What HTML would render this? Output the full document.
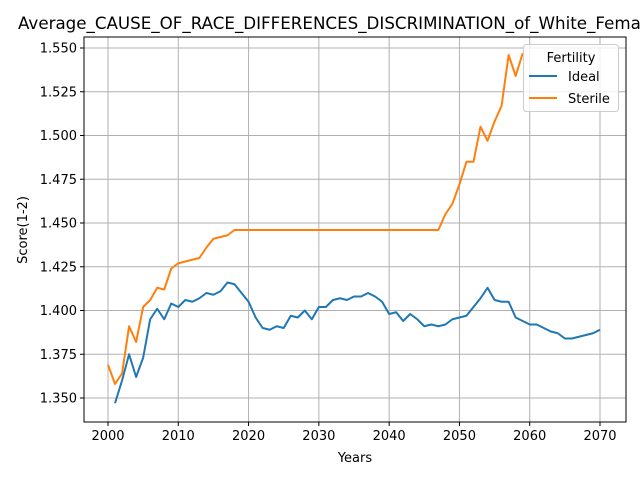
<!DOCTYPE html>
<html><head><meta charset="utf-8"><style>
body{margin:0;background:#fff;width:640px;height:480px;overflow:hidden;font-family:"Liberation Sans","DejaVu Sans",sans-serif;}
svg text{font-family:"DejaVu Sans","Liberation Sans",sans-serif;}
</style></head><body>
<svg id="chart" width="640" height="480">
<text x="18" y="29" font-size="16.7" fill="#000">Average_CAUSE_OF_RACE_DIFFERENCES_DISCRIMINATION_of_White_Females</text>
<g id="grid"></g><g id="lines"></g><g id="axes"></g>
</svg>
<script>
const idealYears=[];for(let y=2001;y<=2070;y++)idealYears.push(y);
const idealValues=[1.347,1.360,1.375,1.362,1.373,1.395,1.401,1.395,1.404,1.402,1.406,1.405,1.407,1.410,1.409,1.411,1.416,1.415,1.410,1.405,1.396,1.390,1.389,1.391,1.390,1.397,1.396,1.400,1.395,1.402,1.402,1.406,1.407,1.406,1.408,1.408,1.410,1.408,1.405,1.398,1.399,1.394,1.398,1.395,1.391,1.392,1.391,1.392,1.395,1.396,1.397,1.402,1.407,1.413,1.406,1.405,1.405,1.396,1.394,1.392,1.392,1.390,1.388,1.387,1.384,1.384,1.385,1.386,1.387,1.389];
const sterileYears=[];for(let y=2000;y<=2059;y++)sterileYears.push(y);
const sterileValues=[1.369,1.358,1.364,1.391,1.382,1.402,1.406,1.413,1.412,1.424,1.427,1.428,1.429,1.430,1.436,1.441,1.442,1.443,1.446,1.446,1.446,1.446,1.446,1.446,1.446,1.446,1.446,1.446,1.446,1.446,1.446,1.446,1.446,1.446,1.446,1.446,1.446,1.446,1.446,1.446,1.446,1.446,1.446,1.446,1.446,1.446,1.446,1.446,1.455,1.461,1.472,1.485,1.485,1.505,1.497,1.508,1.517,1.546,1.534,1.547];
const xTicks=[2000,2010,2020,2030,2040,2050,2060,2070];
const yTicks=[1.350,1.375,1.400,1.425,1.450,1.475,1.500,1.525,1.550];
const L=84,R=626,T=37,B=422;
const X=v=>108+(v-2000)*(600-108)/70;
const Y=v=>398-(v-1.35)*(350/0.2);
const NS="http://www.w3.org/2000/svg";
function mk(t,a,p){const e=document.createElementNS(NS,t);for(const k in a)e.setAttribute(k,a[k]);p.appendChild(e);return e;}
const grid=document.getElementById('grid'),lines=document.getElementById('lines'),axes=document.getElementById('axes');
xTicks.forEach(t=>{
 const g=mk('line',{x1:X(t),x2:X(t),y1:T,y2:B,stroke:'#b0b0b0','stroke-width':1},grid);
 
 
 mk('line',{x1:X(t),x2:X(t),y1:B,y2:B+4,stroke:'#000'},axes);
 const tx=mk('text',{x:X(t),y:B+18,'font-size':13,'text-anchor':'middle'},axes);tx.textContent=t;
 
 
});
yTicks.forEach(t=>{
 const g=mk('line',{x1:L,x2:R,y1:Y(t),y2:Y(t),stroke:'#b0b0b0','stroke-width':1},grid);
 
 
 mk('line',{x1:L-4,x2:L,y1:Y(t),y2:Y(t),stroke:'#000'},axes);
 const tx=mk('text',{x:L-7,y:Y(t)+4.5,'font-size':13,'text-anchor':'end'},axes);tx.textContent=t.toFixed(3);
 
 
});
function series(xs,vs,c){
 mk('polyline',{points:xs.map((x,i)=>X(x)+','+Y(vs[i])).join(' '),fill:'none',stroke:c,'stroke-width':2,'stroke-linejoin':'round'},lines);
}
series(idealYears,idealValues,'#1f77b4');


series(sterileYears,sterileValues,'#ff7f0e');


const fr=mk('rect',{x:L,y:T,width:R-L,height:B-T,fill:'none',stroke:'#000','stroke-width':1},axes);


const xl=mk('text',{x:355,y:462,'font-size':13,'text-anchor':'middle'},axes);xl.textContent='Years';


const yl=mk('text',{x:27,y:230,'font-size':13,'text-anchor':'middle',transform:'rotate(-90 27 230)'},axes);yl.textContent='Score(1-2)';


const lg=mk('g',{},axes);


mk('rect',{x:523.5,y:44.5,width:95,height:67,rx:3,fill:'#fff','fill-opacity':0.8,stroke:'#ccc'},lg);
const lt=mk('text',{x:571,y:62,'font-size':13,'text-anchor':'middle'},lg);lt.textContent='Fertility';


[['Ideal','#1f77b4',76],['Sterile','#ff7f0e',98]].forEach(([n,c,y])=>{
 mk('line',{x1:529,x2:557,y1:y,y2:y,stroke:c,'stroke-width':2},lg);
 const t=mk('text',{x:568,y:y+5,'font-size':13},lg);t.textContent=n;
 
 
});
</script>
</body></html>
